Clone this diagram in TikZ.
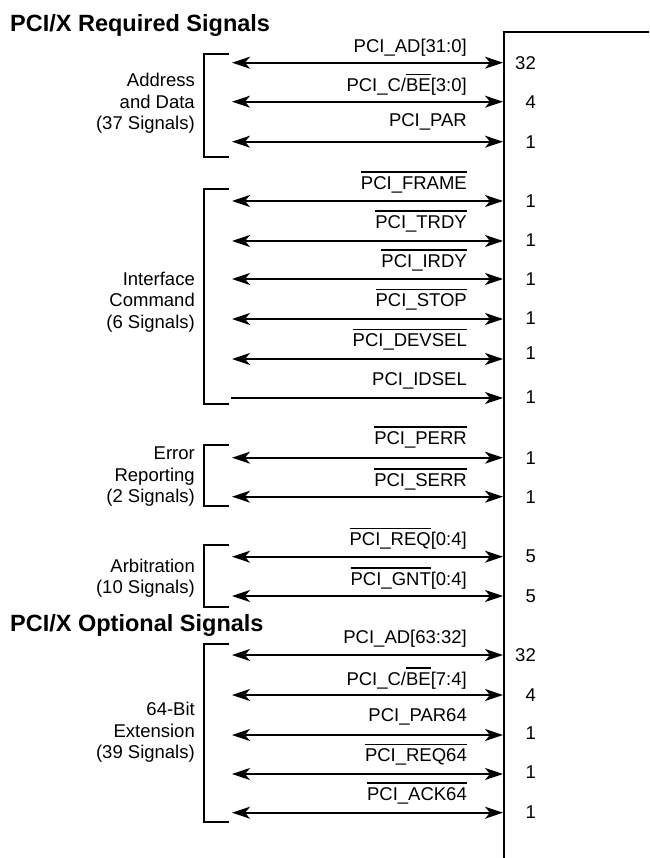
\documentclass[tikz,border=0pt]{standalone}
\usepackage{fontspec}
\setmainfont{Liberation Sans}
\usetikzlibrary{arrows.meta}

\newcommand{\sigfont}{\fontsize{18.5}{21.5}\selectfont}
\newcommand{\headfont}{\fontsize{23.5}{26}\selectfont\bfseries}
\newcommand{\ovl}[1]{\leavevmode\vbox{\hrule height 1.4pt\kern 3.5pt\hbox{#1}}}

\tikzset{
  tip/.tip={Stealth[length=18pt,width=12pt,inset=5pt]},
  sig/.style={line width=1.7pt, tip-tip},
  sigin/.style={line width=1.7pt, -tip},
  brk/.style={line width=1.7pt},
  chip/.style={line width=2pt},
  lab/.style={anchor=base east, inner sep=0pt, font=\sigfont},
  num/.style={anchor=east, inner sep=0pt, font=\sigfont},
  grp/.style={anchor=east, inner sep=0pt, align=right, font=\sigfont},
  heading/.style={anchor=base west, inner sep=0pt, font=\headfont}
}

\begin{document}
\begin{tikzpicture}[x=1pt,y=-1pt]
\useasboundingbox (0,0) rectangle (649,858);

% chip edge
\draw[chip] (649,32) -- (504,32) -- (504,858);

\node[heading] (req) at (10,31.7) {PCI/X Required Signals};
\node[heading] (opt) at (10,631.7) {PCI/X Optional Signals};

% address and data
\draw[brk] (229,54) -- (204,54) -- (204,157) -- (229,157);
\node[grp] (gad) at (195,103.5) {Address\\and Data\\(37 Signals)};
\coordinate (adL) at (232,62.7); \coordinate (adR) at (503,62.7);
\draw[sig] (adL) -- (adR);
\node[lab] (adT) at (467,53) {PCI\_AD[31:0]};
\node[num] (adN) at (536,62.7) {32};
\coordinate (cbeL) at (232,101.7); \coordinate (cbeR) at (503,101.7);
\draw[sig] (cbeL) -- (cbeR);
\node[lab] (cbeT) at (467,91.7) {PCI\_C/\ovl{BE}[3:0]};
\node[num] (cbeN) at (536,101.7) {4};
\coordinate (parL) at (232,141.7); \coordinate (parR) at (503,141.7);
\draw[sig] (parL) -- (parR);
\node[lab] (parT) at (467,126.7) {PCI\_PAR};
\node[num] (parN) at (536,141.7) {1};

% interface command
\draw[brk] (229,189) -- (204,189) -- (204,404) -- (229,404);
\node[grp] (gic) at (195,302) {Interface\\Command\\(6 Signals)};
\coordinate (frameL) at (232,201); \coordinate (frameR) at (503,201);
\draw[sig] (frameL) -- (frameR);
\node[lab] (frameT) at (467,189.3) {\ovl{PCI\_FRAME}};
\node[num] (frameN) at (536,201) {1};
\coordinate (trdyL) at (232,241); \coordinate (trdyR) at (503,241);
\draw[sig] (trdyL) -- (trdyR);
\node[lab] (trdyT) at (467,228.3) {\ovl{PCI\_TRDY}};
\node[num] (trdyN) at (536,240) {1};
\coordinate (irdyL) at (232,279); \coordinate (irdyR) at (503,279);
\draw[sig] (irdyL) -- (irdyR);
\node[lab] (irdyT) at (467,267.3) {\ovl{PCI\_IRDY}};
\node[num] (irdyN) at (536,279) {1};
\coordinate (stopL) at (232,319); \coordinate (stopR) at (503,319);
\draw[sig] (stopL) -- (stopR);
\node[lab] (stopT) at (467,306.7) {\ovl{PCI\_STOP}};
\node[num] (stopN) at (536,318) {1};
\coordinate (devselL) at (232,359); \coordinate (devselR) at (503,359);
\draw[sig] (devselL) -- (devselR);
\node[lab] (devselT) at (467,346.7) {\ovl{PCI\_DEVSEL}};
\node[num] (devselN) at (536,352.7) {1};
\coordinate (idselL) at (231,398); \coordinate (idselR) at (503,398);
\draw[sigin] (idselL) -- (idselR);
\node[lab] (idselT) at (467,385) {PCI\_IDSEL};
\node[num] (idselN) at (536,397) {1};

% error reporting
\draw[brk] (229,445) -- (204,445) -- (204,506) -- (229,506);
\node[grp] (ger) at (195,477) {Error\\Reporting\\(2 Signals)};
\coordinate (perrL) at (232,457.7); \coordinate (perrR) at (503,457.7);
\draw[sig] (perrL) -- (perrR);
\node[lab] (perrT) at (467,444) {\ovl{PCI\_PERR}};
\node[num] (perrN) at (536,457.7) {1};
\coordinate (serrL) at (232,496.7); \coordinate (serrR) at (503,496.7);
\draw[sig] (serrL) -- (serrR);
\node[lab] (serrT) at (467,486) {\ovl{PCI\_SERR}};
\node[num] (serrN) at (536,496.7) {1};

% arbitration
\draw[brk] (229,545) -- (204,545) -- (204,607) -- (229,607);
\node[grp] (garb) at (195,578) {Arbitration\\(10 Signals)};
\coordinate (reqL) at (232,556.7); \coordinate (reqR) at (503,556.7);
\draw[sig] (reqL) -- (reqR);
\node[lab] (reqT) at (467,545.7) {\ovl{PCI\_REQ}[0:4]};
\node[num] (reqN) at (536,556.7) {5};
\coordinate (gntL) at (232,596); \coordinate (gntR) at (503,596);
\draw[sig] (gntL) -- (gntR);
\node[lab] (gntT) at (467,585) {\ovl{PCI\_GNT}[0:4]};
\node[num] (gntN) at (536,596) {5};

% 64-bit extension
\draw[brk] (229,644) -- (204,644) -- (204,821.7) -- (229,821.7);
\node[grp] (gext) at (195,732.5) {64-Bit\\Extension\\(39 Signals)};
\coordinate (adxL) at (232,655); \coordinate (adxR) at (503,655);
\draw[sig] (adxL) -- (adxR);
\node[lab] (adxT) at (467,643.3) {PCI\_AD[63:32]};
\node[num] (adxN) at (536,655) {32};
\coordinate (cbexL) at (232,695); \coordinate (cbexR) at (503,695);
\draw[sig] (cbexL) -- (cbexR);
\node[lab] (cbexT) at (467,685) {PCI\_C/\ovl{BE}[7:4]};
\node[num] (cbexN) at (536,695) {4};
\coordinate (parxL) at (232,735); \coordinate (parxR) at (503,735);
\draw[sig] (parxL) -- (parxR);
\node[lab] (parxT) at (467,721.7) {PCI\_PAR64};
\node[num] (parxN) at (536,733) {1};
\coordinate (reqxL) at (232,774); \coordinate (reqxR) at (503,774);
\draw[sig] (reqxL) -- (reqxR);
\node[lab] (reqxT) at (467,761.7) {\ovl{PCI\_REQ64}};
\node[num] (reqxN) at (536,772.3) {1};
\coordinate (ackxL) at (232,812.7); \coordinate (ackxR) at (503,812.7);
\draw[sig] (ackxL) -- (ackxR);
\node[lab] (ackxT) at (467,800) {\ovl{PCI\_ACK64}};
\node[num] (ackxN) at (536,812.3) {1};
\end{tikzpicture}
\end{document}
